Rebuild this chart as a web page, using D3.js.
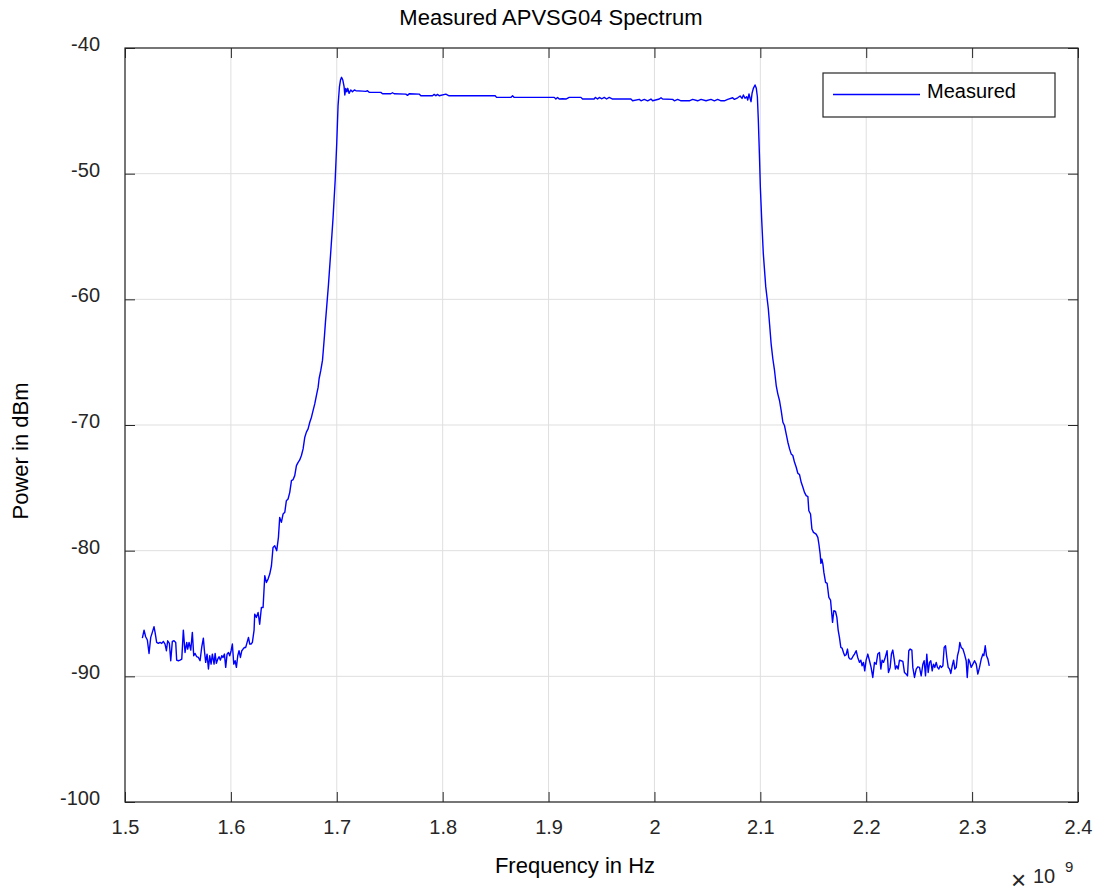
<!DOCTYPE html>
<html><head><meta charset="utf-8">
<script src="https://cdn.jsdelivr.net/npm/d3@7"></script>
<style>
html,body{margin:0;padding:0;background:#fff;}
svg{display:block;font-family:"Liberation Sans",Arial,Helvetica,sans-serif;}
</style></head>
<body><svg id="chart" width="1094" height="896"></svg>
<script>
// ---- data ----
const chartTitle = "Measured APVSG04 Spectrum";
const xLabel = "Frequency in Hz";
const yLabel = "Power in dBm";
const seriesName = "Measured";
const xTicks = [1.5,1.6,1.7,1.8,1.9,2.0,2.1,2.2,2.3,2.4];
const xTickLabels = ["1.5","1.6","1.7","1.8","1.9","2","2.1","2.2","2.3","2.4"];
const yTicks = [-100,-90,-80,-70,-60,-50,-40];
const yTickLabels = ["-100","-90","-80","-70","-60","-50","-40"];
// frequency in GHz (x10^9 Hz), power in dBm
const measured = [
[1.5164,-86.96],[1.5180,-86.32],[1.5195,-86.85],[1.5211,-87.11],[1.5227,-88.18],[1.5243,-86.90],[1.5258,-86.50],[1.5274,-86.05],[1.5284,-86.50],[1.5299,-87.30],
[1.5315,-87.38],[1.5331,-87.30],[1.5347,-87.38],[1.5362,-87.22],[1.5378,-87.43],[1.5391,-87.96],[1.5403,-87.17],[1.5419,-87.38],[1.5432,-88.76],[1.5447,-87.22],
[1.5463,-87.17],[1.5479,-87.30],[1.5488,-88.71],[1.5504,-88.76],[1.5520,-88.71],[1.5536,-88.63],[1.5551,-86.32],[1.5567,-88.10],[1.5583,-87.30],[1.5592,-87.83],
[1.5605,-87.30],[1.5621,-87.91],[1.5636,-86.50],[1.5649,-88.36],[1.5662,-88.18],[1.5677,-88.44],[1.5693,-88.50],[1.5709,-88.76],[1.5725,-87.65],[1.5740,-86.96],
[1.5750,-87.96],[1.5762,-88.89],[1.5775,-88.23],[1.5788,-89.42],[1.5800,-88.36],[1.5813,-89.03],[1.5825,-88.23],[1.5841,-89.03],[1.5851,-88.18],[1.5863,-88.97],
[1.5876,-88.63],[1.5888,-88.44],[1.5901,-88.71],[1.5914,-88.36],[1.5926,-88.50],[1.5939,-88.23],[1.5951,-89.29],[1.5964,-88.23],[1.5977,-88.10],[1.5989,-88.36],
[1.6002,-87.96],[1.6014,-87.43],[1.6027,-89.03],[1.6040,-88.76],[1.6052,-89.29],[1.6065,-88.36],[1.6077,-87.96],[1.6090,-88.50],[1.6103,-87.96],[1.6115,-87.83],
[1.6128,-87.70],[1.6140,-87.70],[1.6153,-87.30],[1.6166,-86.90],[1.6178,-87.43],[1.6191,-87.43],[1.6203,-87.30],
[1.6219,-86.32],[1.6225,-85.05],[1.6241,-85.31],[1.6257,-84.92],[1.6272,-85.85],[1.6288,-84.52],[1.6304,-84.52],[1.6320,-81.99],[1.6335,-82.53],[1.6351,-82.26],
[1.6367,-81.86],[1.6383,-81.20],[1.6398,-79.74],[1.6414,-79.61],[1.6433,-80.00],[1.6449,-78.94],[1.6461,-77.35],[1.6477,-77.75],[1.6493,-77.08],[1.6509,-76.95],
[1.6524,-76.02],[1.6540,-75.89],[1.6556,-75.36],[1.6572,-74.43],[1.6587,-74.35],[1.6603,-74.03],[1.6619,-73.23],[1.6635,-72.97],[1.6650,-72.78],[1.6666,-72.43],
[1.6682,-71.90],[1.6698,-70.97],[1.6713,-70.57],[1.6729,-70.31],[1.6745,-69.78],[1.6761,-69.38],[1.6776,-68.85],[1.6792,-68.32],[1.6808,-67.65],[1.6824,-66.99],
[1.6833,-66.32],[1.6849,-65.66],[1.6865,-64.86],[1.6874,-63.93],[1.6884,-62.87],[1.6893,-61.81],[1.6902,-60.88],[1.6912,-59.82],[1.6921,-58.89],
[1.6945,-56.00],[1.6965,-53.50],[1.6985,-50.50],[1.7000,-47.50],[1.7012,-44.60],[1.7025,-43.10],[1.7035,-42.55],[1.7045,-42.33],[1.7057,-42.55],[1.7069,-43.08],
[1.7076,-43.74],[1.7085,-43.21],[1.7095,-43.48],[1.7104,-43.21],[1.7116,-43.61],[1.7132,-43.34],[1.7148,-43.48],[1.7166,-43.34],
[1.7180,-43.40],[1.7243,-43.43],[1.7274,-43.45],[1.7290,-43.40],[1.7306,-43.53],[1.7416,-43.53],[1.7432,-43.64],[1.7510,-43.64],[1.7526,-43.56],[1.7542,-43.64],
[1.7652,-43.67],[1.7668,-43.77],[1.7684,-43.64],[1.7778,-43.67],[1.7794,-43.80],[1.7904,-43.80],[1.7920,-43.69],[1.7936,-43.80],[1.7951,-43.69],[1.7967,-43.80],
[1.8030,-43.67],[1.8061,-43.80],[1.8187,-43.80],[1.8345,-43.80],[1.8496,-43.80],[1.8509,-43.93],[1.8644,-43.93],[1.8660,-43.80],[1.8676,-43.93],[1.8880,-43.93],
[1.9054,-43.93],[1.9069,-44.06],[1.9085,-43.93],[1.9101,-44.06],[1.9132,-44.04],[1.9164,-44.06],[1.9195,-43.93],[1.9306,-43.93],[1.9321,-44.06],[1.9432,-44.06],
[1.9441,-43.93],[1.9463,-44.06],[1.9479,-43.93],[1.9504,-44.04],[1.9526,-43.93],[1.9548,-44.06],[1.9573,-43.93],[1.9605,-44.06],[1.9778,-44.06],[1.9794,-44.20],
[1.9857,-44.09],[1.9873,-44.20],[1.9904,-44.09],[1.9936,-44.20],[1.9967,-44.06],[1.9983,-44.20],[2.0046,-44.06],[2.0062,-43.96],[2.0077,-44.06],[2.0172,-44.09],
[2.0188,-44.20],[2.0219,-44.09],[2.0251,-44.20],[2.0329,-44.20],[2.0361,-44.09],[2.0408,-44.20],[2.0440,-44.09],[2.0487,-44.20],[2.0534,-44.09],[2.0566,-44.20],
[2.0597,-44.09],[2.0629,-44.20],[2.0660,-44.20],[2.0692,-44.09],[2.0739,-43.96],[2.0755,-44.09],[2.0786,-43.96],[2.0809,-43.82],[2.0827,-44.01],[2.0840,-43.74],
[2.0855,-44.00],[2.0871,-43.88],[2.0881,-44.14],[2.0893,-43.66],[2.0903,-44.00],[2.0912,-44.27],[2.0922,-43.60],[2.0934,-43.21],[2.0950,-42.94],[2.0962,-43.21],
[2.0972,-43.88],[2.0981,-45.73],[2.0991,-48.38],[2.1000,-51.04],[2.1013,-53.69],[2.1028,-56.34],[2.1051,-58.99],[2.1075,-60.71],
[2.1087,-61.94],[2.1102,-63.54],[2.1118,-64.73],[2.1134,-65.66],[2.1150,-66.86],[2.1165,-67.52],[2.1181,-68.05],[2.1197,-68.85],[2.1213,-69.78],[2.1228,-70.04],
[2.1244,-70.71],[2.1260,-71.37],[2.1276,-71.90],[2.1291,-72.30],[2.1307,-72.43],[2.1323,-72.97],[2.1339,-73.36],[2.1354,-73.84],[2.1370,-73.95],[2.1386,-74.56],
[2.1402,-74.96],[2.1417,-75.36],[2.1433,-75.62],[2.1449,-75.70],[2.1458,-76.82],[2.1474,-77.08],[2.1487,-78.28],[2.1502,-78.54],[2.1527,-78.68],[2.1543,-78.94],
[2.1553,-79.47],[2.1565,-80.27],[2.1572,-81.01],[2.1581,-80.67],[2.1591,-81.07],[2.1600,-81.73],[2.1616,-82.53],[2.1631,-82.61],[2.1647,-83.72],[2.1663,-83.93],
[2.1672,-84.78],[2.1682,-85.71],[2.1694,-84.78],[2.1710,-84.84],[2.1723,-85.31],[2.1735,-86.32],
[2.1747,-86.90],[2.1760,-87.70],[2.1772,-87.75],[2.1785,-88.10],[2.1797,-88.36],[2.1810,-88.28],[2.1823,-87.83],[2.1835,-88.50],[2.1848,-88.63],[2.1860,-88.63],
[2.1873,-88.44],[2.1889,-88.23],[2.1905,-87.96],[2.1920,-88.50],[2.1936,-88.89],[2.1949,-88.71],[2.1961,-89.16],[2.1974,-88.89],[2.1986,-89.56],[2.1999,-88.71],
[2.2015,-88.23],[2.2031,-88.76],[2.2046,-89.29],[2.2062,-90.09],[2.2078,-88.89],[2.2094,-89.03],[2.2109,-88.23],[2.2125,-88.10],[2.2138,-89.42],[2.2150,-88.71],
[2.2163,-88.89],[2.2175,-88.63],[2.2188,-88.23],[2.2197,-87.96],[2.2210,-89.69],[2.2226,-89.29],[2.2238,-88.23],[2.2251,-87.91],[2.2264,-88.63],[2.2276,-89.42],
[2.2289,-89.16],[2.2301,-89.42],[2.2314,-88.71],[2.2330,-88.76],[2.2346,-88.81],[2.2361,-89.69],[2.2377,-89.82],[2.2390,-89.96],[2.2402,-87.96],[2.2415,-87.83],
[2.2431,-87.91],[2.2440,-89.29],[2.2456,-90.09],[2.2472,-89.42],[2.2487,-89.24],[2.2503,-89.29],[2.2519,-89.96],[2.2535,-89.03],[2.2547,-88.76],[2.2560,-89.96],
[2.2572,-88.23],[2.2585,-89.69],[2.2598,-88.89],[2.2610,-88.76],[2.2623,-89.56],[2.2635,-89.03],[2.2648,-89.29],[2.2661,-88.89],[2.2673,-89.29],[2.2686,-89.42],
[2.2698,-89.16],[2.2711,-89.29],[2.2724,-89.16],[2.2736,-87.70],[2.2749,-87.57],[2.2761,-88.50],[2.2774,-89.29],[2.2787,-89.42],[2.2799,-89.77],[2.2812,-89.16],
[2.2825,-88.71],[2.2837,-89.42],[2.2850,-89.29],[2.2862,-88.36],[2.2875,-87.91],[2.2884,-87.30],[2.2897,-87.70],[2.2913,-87.83],[2.2928,-88.23],[2.2944,-88.76],
[2.2954,-90.09],[2.2966,-88.63],[2.2979,-88.89],[2.2991,-89.29],[2.3007,-89.03],[2.3023,-88.76],[2.3039,-89.03],[2.3054,-89.82],[2.3070,-89.29],[2.3086,-88.63],
[2.3102,-88.23],[2.3111,-88.36],[2.3124,-87.57],[2.3136,-88.36],[2.3149,-88.63],[2.3162,-89.16]
];

// ---- drawing ----
const svg = d3.select("#chart");
const L = 125, R = 1078, T = 48, B = 802;
const axisColor = "#262626";
const x = d3.scaleLinear().domain([1.5, 2.4]).range([L, R]);
const y = d3.scaleLinear().domain([-100, -40]).range([B, T]);

// grid
const grid = svg.append("g");
grid.selectAll(".gx").data(xTicks).join("line")
  .attr("x1", d => x(d)).attr("x2", d => x(d)).attr("y1", T).attr("y2", B)
  .attr("stroke", "#dfdfdf").attr("stroke-width", 1);
grid.selectAll(".gy").data(yTicks).join("line")
  .attr("y1", d => y(d)).attr("y2", d => y(d)).attr("x1", L).attr("x2", R)
  .attr("stroke", "#dfdfdf").attr("stroke-width", 1);

// axes
function styleAxis(g) {
  g.select(".domain").remove();
  g.selectAll(".tick line").attr("stroke", axisColor).attr("stroke-width", 1);
  g.selectAll("text").attr("fill", axisColor).attr("font-size", 20)
    .attr("font-family", '"Liberation Sans",Arial,Helvetica,sans-serif');
}
const xAxisB = d3.axisBottom(x).tickValues(xTicks).tickSizeInner(-10).tickSizeOuter(0)
  .tickFormat((d, i) => xTickLabels[i]);
svg.append("g").attr("transform", `translate(0,${B})`).call(xAxisB).call(styleAxis)
  .selectAll("text").attr("y", 32).attr("dy", null);
const xAxisT = d3.axisTop(x).tickValues(xTicks).tickSizeInner(-10).tickSizeOuter(0).tickFormat("");
svg.append("g").attr("transform", `translate(0,${T})`).call(xAxisT).call(styleAxis);

const yAxisL = d3.axisLeft(y).tickValues(yTicks).tickSizeInner(-10).tickSizeOuter(0)
  .tickFormat((d, i) => yTickLabels[i]);
svg.append("g").attr("transform", `translate(${L},0)`).call(yAxisL).call(styleAxis)
  .selectAll("text").attr("x", -25).attr("y", 2.5).attr("dy", null);
const yAxisR = d3.axisRight(y).tickValues(yTicks).tickSizeInner(-10).tickSizeOuter(0).tickFormat("");
svg.append("g").attr("transform", `translate(${R},0)`).call(yAxisR).call(styleAxis);

// box
svg.append("rect").attr("x", L).attr("y", T).attr("width", R - L).attr("height", B - T)
  .attr("fill", "none").attr("stroke", axisColor).attr("stroke-width", 1.2);

// line
const line = d3.line().x(d => x(d[0])).y(d => y(d[1]));
svg.append("path").datum(measured).attr("d", line)
  .attr("fill", "none").attr("stroke", "#0000ff").attr("stroke-width", 1.4)
  .attr("stroke-linejoin", "round");

// legend
const lg = svg.append("g");
lg.append("rect").attr("x", 823).attr("y", 73).attr("width", 232).attr("height", 44)
  .attr("fill", "#fff").attr("stroke", axisColor).attr("stroke-width", 1.2);
lg.append("line").attr("x1", 833).attr("x2", 920).attr("y1", 94.5).attr("y2", 94.5)
  .attr("stroke", "#0000ff").attr("stroke-width", 1.4);
lg.append("text").attr("x", 927).attr("y", 97.5).attr("font-size", 20).attr("fill", "#000")
  .text(seriesName);

// title & labels
svg.append("text").attr("x", 551).attr("y", 25).attr("text-anchor", "middle")
  .attr("font-size", 22).attr("fill", "#000").text(chartTitle);
svg.append("text").attr("x", 575).attr("y", 873).attr("text-anchor", "middle")
  .attr("font-size", 22).attr("fill", "#000").text(xLabel);
svg.append("text").attr("transform", "translate(28,451) rotate(-90)").attr("text-anchor", "middle")
  .attr("font-size", 22).attr("fill", "#000").text(yLabel);

// exponent
svg.append("text").attr("x", 1011).attr("y", 889).attr("font-size", 26)
  .attr("fill", axisColor).text("\u00d7");
svg.append("text").attr("x", 1033).attr("y", 883).attr("font-size", 20).attr("fill", axisColor).text("10");
svg.append("text").attr("x", 1065).attr("y", 872).attr("font-size", 15).attr("fill", axisColor).text("9");
</script>
</body></html>
